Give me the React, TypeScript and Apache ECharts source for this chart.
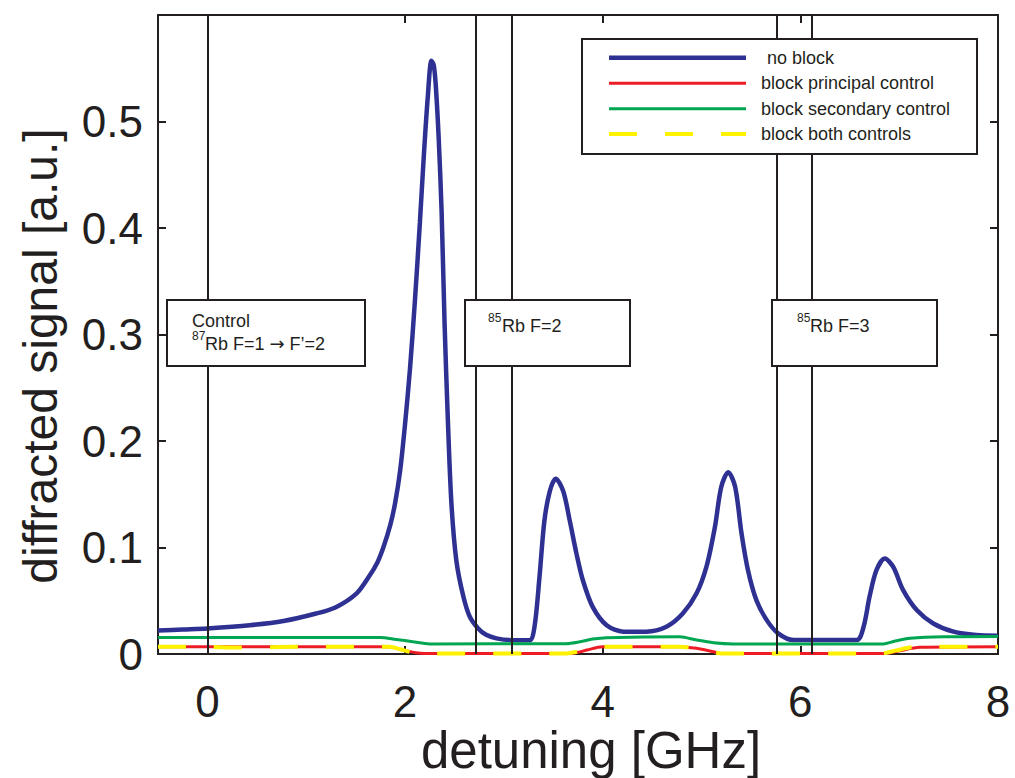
import React, { useEffect, useRef } from 'react';
import * as echarts from 'echarts';

const FONT = '"Liberation Sans", Arial, Helvetica, sans-serif';
const INK = '#231f20';

// x-axis ticks
const X_TICKS = [0, 2, 4, 6, 8];

// vertical reference lines (GHz)
const VLINES = [0, 2.72, 3.08, 5.76, 6.12];

// legend
const LEGEND_NAMES = ['no block', 'block principal control', 'block secondary control', 'block both controls'];
const COLORS = ['#2e3192', '#ed1c24', '#00a651', '#fff200'];

// no block
const BLUE_X = [-0.5, -0.25, 0, 0.43, 0.77, 1.1, 1.3, 1.51, 1.64, 1.72, 1.78, 1.85, 1.9, 1.95, 2.0, 2.05, 2.1, 2.15, 2.19, 2.23, 2.267, 2.29, 2.31, 2.34, 2.37, 2.4, 2.435, 2.47, 2.52, 2.59, 2.655, 2.74, 2.82, 2.925, 3.08, 3.26, 3.31, 3.36, 3.41, 3.465, 3.525, 3.6, 3.667, 3.735, 3.8, 3.9, 4.04, 4.21, 4.44, 4.645, 4.81, 4.95, 5.05, 5.135, 5.2, 5.27, 5.34, 5.405, 5.47, 5.555, 5.66, 5.775, 5.93, 6.57, 6.64, 6.7, 6.77, 6.855, 6.94, 7.04, 7.18, 7.345, 7.55, 7.78, 8.0];
const BLUE_Y = [0.022, 0.023, 0.024, 0.027, 0.031, 0.038, 0.044, 0.057, 0.0735, 0.086, 0.1, 0.121, 0.142, 0.172, 0.216, 0.268, 0.332, 0.405, 0.468, 0.523, 0.557, 0.553, 0.535, 0.485, 0.415, 0.31, 0.215, 0.14, 0.087, 0.054, 0.035, 0.024, 0.018, 0.0147, 0.013, 0.013, 0.0256, 0.072, 0.125, 0.153, 0.1645, 0.153, 0.125, 0.094, 0.069, 0.044, 0.027, 0.021, 0.021, 0.0256, 0.038, 0.057, 0.082, 0.119, 0.157, 0.1707, 0.157, 0.113, 0.0787, 0.0506, 0.0318, 0.0194, 0.0131, 0.0131, 0.0256, 0.0537, 0.0787, 0.0896, 0.0817, 0.06, 0.041, 0.0287, 0.021, 0.0178, 0.0172];

// block principal control
const RED_X = [-0.5, 1.75, 1.85, 1.98, 2.11, 2.2, 3.67, 3.77, 3.84, 4.0, 4.78, 4.95, 5.12, 5.2, 6.87, 7.0, 7.21, 8.0];
const RED_Y = [0.0069, 0.0069, 0.0066, 0.0037, 0.0012, 0.0005, 0.0005, 0.002, 0.0037, 0.0069, 0.0069, 0.0053, 0.0022, 0.0005, 0.0005, 0.003, 0.0063, 0.0069];

// block secondary control
const GREEN_X = [-0.5, 1.75, 1.91, 2.08, 2.25, 3.63, 3.77, 3.9, 4.04, 4.78, 4.95, 5.12, 5.32, 6.84, 6.95, 7.11, 7.45, 8.0];
const GREEN_Y = [0.0156, 0.0156, 0.0137, 0.0115, 0.0095, 0.0097, 0.0115, 0.014, 0.0153, 0.0162, 0.0131, 0.0106, 0.0095, 0.0095, 0.012, 0.0147, 0.0162, 0.0165];

// block both controls
const YELLOW_X = [-0.5, 0.0, 0.3, 0.9, 1.75, 1.84, 1.95, 2.08, 2.2, 3.62, 3.74, 3.86, 4.0, 4.78, 4.93, 5.1, 5.2, 6.82, 6.96, 7.15, 8.0];
const YELLOW_Y = [0.0069, 0.0068, 0.006, 0.0068, 0.0069, 0.0067, 0.0045, 0.0013, 0.0005, 0.0005, 0.0022, 0.0045, 0.0069, 0.0069, 0.0052, 0.0022, 0.0005, 0.0005, 0.0032, 0.0064, 0.0069];

const zip = (xs: number[], ys: number[]) => xs.map((x, i) => [x, ys[i]]);

export default function App() {
  const ref = useRef<HTMLDivElement>(null);
  useEffect(() => {
    document.body.style.margin = '0';
    if (!ref.current) return;
    const chart = echarts.init(ref.current, null, { renderer: 'svg' });
    const axisLine = { show: true, onZero: false, lineStyle: { color: INK, width: 2 } };
    const tick = { show: true, inside: true, length: 8, lineStyle: { color: INK, width: 2 } };
    const lineSeries = (name: string, data: number[][], color: string, width: number, type: any = 'solid') => ({
      name,
      type: 'line',
      data,
      symbol: 'none',
      showSymbol: false,
      smooth: 0.3,
      clip: false,
      lineStyle: { color, width, type },
      itemStyle: { color },
      emphasis: { disabled: true },
    });
    const textBox = (x: number, w: number) => ({
      type: 'rect', z: 100,
      shape: { x, y: 300, width: w, height: 66 },
      style: { fill: '#fff', stroke: INK, lineWidth: 2 },
    });
    const txt = (x: number, y: number, text: string, size: number) => ({
      type: 'text', z: 101, x, y,
      style: { text, fontSize: size, fontFamily: FONT, fill: INK, align: 'left', verticalAlign: 'middle' },
    });
    const legendRows = [57.7, 83.3, 108.7, 134];
    const legendWidths = [4.5, 3, 3, 4];
    const legendGraphic: any[] = [
      {
        type: 'rect', z: 100,
        shape: { x: 582, y: 39, width: 395, height: 115 },
        style: { fill: '#fff', stroke: INK, lineWidth: 2 },
      },
    ];
    LEGEND_NAMES.forEach((name, i) => {
      legendGraphic.push({
        type: 'line', z: 101,
        shape: { x1: 609, y1: legendRows[i], x2: 746, y2: legendRows[i] },
        style: { stroke: COLORS[i], lineWidth: legendWidths[i], lineDash: i === 3 ? [28, 28] : null },
      });
      legendGraphic.push(txt(i === 0 ? 767 : 761, legendRows[i], name, 18));
    });
    chart.setOption({
      animation: false,
      backgroundColor: '#fff',
      grid: { left: 158, right: 17, top: 15, bottom: 124 },
      xAxis: [
        {
          type: 'value', min: -0.5, max: 8, position: 'bottom',
          axisLine, axisTick: { ...tick, customValues: X_TICKS },
          axisLabel: { customValues: X_TICKS, fontSize: 44, lineHeight: 40, fontFamily: FONT, color: INK, margin: 27 },
          splitLine: { show: false },
        },
        {
          type: 'value', min: -0.5, max: 8, position: 'top',
          axisLine, axisTick: { ...tick, customValues: X_TICKS },
          axisLabel: { show: false }, splitLine: { show: false },
        },
      ],
      yAxis: [
        {
          type: 'value', min: 0, max: 0.6, interval: 0.1, position: 'left',
          axisLine, axisTick: tick,
          axisLabel: {
            fontSize: 44, fontFamily: FONT, color: INK, margin: 15,
            formatter: (v: number) => (v > 0.55 ? '' : v === 0 ? '0' : Number(v.toFixed(1)).toString()),
          },
          splitLine: { show: false },
        },
        {
          type: 'value', min: 0, max: 0.6, interval: 0.1, position: 'right',
          axisLine, axisTick: tick, axisLabel: { show: false }, splitLine: { show: false },
        },
      ],
      series: [
        {
          ...lineSeries(LEGEND_NAMES[0], zip(BLUE_X, BLUE_Y), COLORS[0], 4.5),
          markLine: {
            silent: true, symbol: ['none', 'none'], label: { show: false },
            lineStyle: { color: INK, width: 2, type: 'solid' },
            emphasis: { disabled: true },
            data: VLINES.map((v) => ({ xAxis: v })),
          },
        },
        lineSeries(LEGEND_NAMES[1], zip(RED_X, RED_Y), COLORS[1], 3),
        lineSeries(LEGEND_NAMES[2], zip(GREEN_X, GREEN_Y), COLORS[2], 3),
        lineSeries(LEGEND_NAMES[3], zip(YELLOW_X, YELLOW_Y), COLORS[3], 4, [28, 28]),
      ],
      graphic: [
        ...legendGraphic,
        textBox(167, 198),
        textBox(465, 165),
        textBox(772, 165),
        txt(192, 320.7, 'Control', 18),
        txt(192, 335.8, '87', 12),
        {
          type: 'text', z: 101, x: 205, y: 343.7,
          style: {
            text: '{a|Rb F=1 }{b|\u2192}{a| F\u2019=2}',
            fontSize: 18, fontFamily: FONT, fill: INK, align: 'left', verticalAlign: 'middle',
            rich: {
              a: { fontSize: 18, fontFamily: FONT, fill: INK },
              b: { fontSize: 18, fontFamily: '"DejaVu Sans", sans-serif', fill: INK },
            },
          },
        },
        txt(488, 317.8, '85', 12),
        txt(502, 325.7, 'Rb F=2', 18),
        txt(797, 317.8, '85', 12),
        txt(810, 325.7, 'Rb F=3', 18),
        {
          type: 'text', z: 101, x: 40, y: 356, rotation: Math.PI / 2,
          style: { text: 'diffracted signal [a.u.]', fontSize: 48, fontFamily: FONT, fill: INK, align: 'center', verticalAlign: 'middle' },
        },
        {
          type: 'text', z: 101, x: 591, y: 750,
          style: { text: 'detuning [GHz]', fontSize: 51, lineHeight: 46, fontFamily: FONT, fill: INK, align: 'center', verticalAlign: 'middle' },
        },
      ],
    });
    return () => chart.dispose();
  }, []);
  return <div ref={ref} style={{ width: 1015, height: 778 }} />;
}
